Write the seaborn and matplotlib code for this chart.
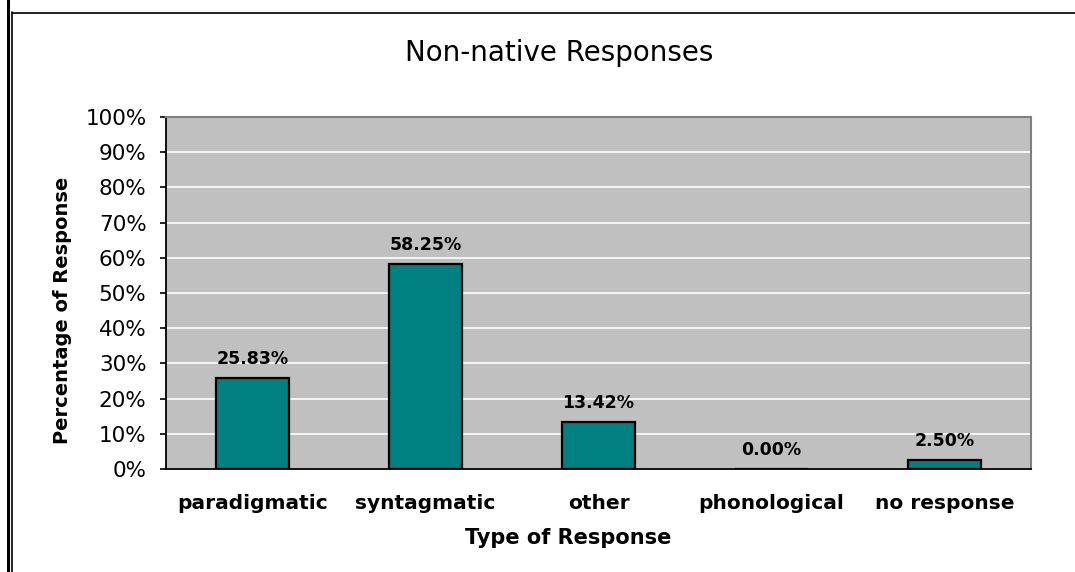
import matplotlib
matplotlib.use("Agg")
import matplotlib.pyplot as plt
from matplotlib.lines import Line2D
import seaborn as sns
import pandas as pd

categories = ["paradigmatic", "syntagmatic", "other", "phonological", "no response"]
percentages = [25.83, 58.25, 13.42, 0.00, 2.50]
y_ticks = [0, 10, 20, 30, 40, 50, 60, 70, 80, 90, 100]

sns.set_theme(style="white")
plt.rcParams["font.family"] = ["DejaVu Sans"]
plt.rcParams["text.color"] = "black"
plt.rcParams["axes.labelcolor"] = "black"
plt.rcParams["xtick.color"] = "black"
plt.rcParams["ytick.color"] = "black"

df = pd.DataFrame({"Type": categories, "Percent": percentages})

fig = plt.figure(figsize=(10.75, 5.72), dpi=100)
ax = fig.add_axes([166 / 1075, 1 - 469 / 572, (1031 - 166) / 1075, (469 - 117) / 572])
ax.set_facecolor("#C0C0C0")

sns.barplot(data=df, x="Type", y="Percent", color="#008080", width=0.42,
            edgecolor="black", linewidth=1.6, saturation=1, ax=ax, zorder=3)

ax.set_ylim(0, 100)
ax.set_xlim(-0.5, len(categories) - 0.5)
ax.set_yticks(y_ticks)
ax.set_yticklabels([f"{t}%" for t in y_ticks], fontsize=15.5)
ax.yaxis.grid(True, color="white", linewidth=1.2, zorder=0)
ax.set_axisbelow(True)

# category separators on the x axis
ax.set_xticks([i - 0.5 for i in range(len(categories) + 1)], minor=True)
ax.set_xticks(range(len(categories)))
ax.set_xticklabels(categories, fontsize=14.5, fontweight="bold")
ax.tick_params(axis="x", which="major", length=0, pad=18)
ax.tick_params(axis="x", which="minor", length=8, width=1, color="black", direction="out")
ax.tick_params(axis="y", length=4, width=1.2, color="black", direction="out", left=True, pad=10)

for side in ["left", "bottom"]:
    ax.spines[side].set_color("black")
    ax.spines[side].set_linewidth(1.3)
for side in ["top", "right"]:
    ax.spines[side].set_visible(True)
    ax.spines[side].set_color("#808080")
    ax.spines[side].set_linewidth(1.5)

for i, v in enumerate(percentages):
    ax.annotate(f"{v:.2f}%", (i, v), xytext=(0, 7), textcoords="offset points",
                ha="center", va="bottom", fontsize=12.5, fontweight="bold", zorder=4)

ax.set_xlabel("Type of Response", fontsize=15, fontweight="bold")
ax.set_ylabel("Percentage of Response", fontsize=14, fontweight="bold")
ax.xaxis.set_label_coords((568 - 166) / 865, -(528 - 469) / 352)
ax.yaxis.set_label_coords(-(166 - 72) / 865, (469 - 310) / 352)
fig.text(559 / 1075, 1 - 53 / 572, "Non-native Responses", ha="center", va="center",
         fontsize=20)

# frame lines around the chart
fig.add_artist(Line2D([7.5 / 1075, 7.5 / 1075], [0, 1], color="black", linewidth=2.2))
fig.add_artist(Line2D([11.5 / 1075, 11.5 / 1075], [0, 1 - 12 / 572], color="black", linewidth=1.2))
fig.add_artist(Line2D([11.5 / 1075, 1], [1 - 12.5 / 572, 1 - 12.5 / 572], color="black", linewidth=1.2))

fig.savefig("out.png", dpi=100)
